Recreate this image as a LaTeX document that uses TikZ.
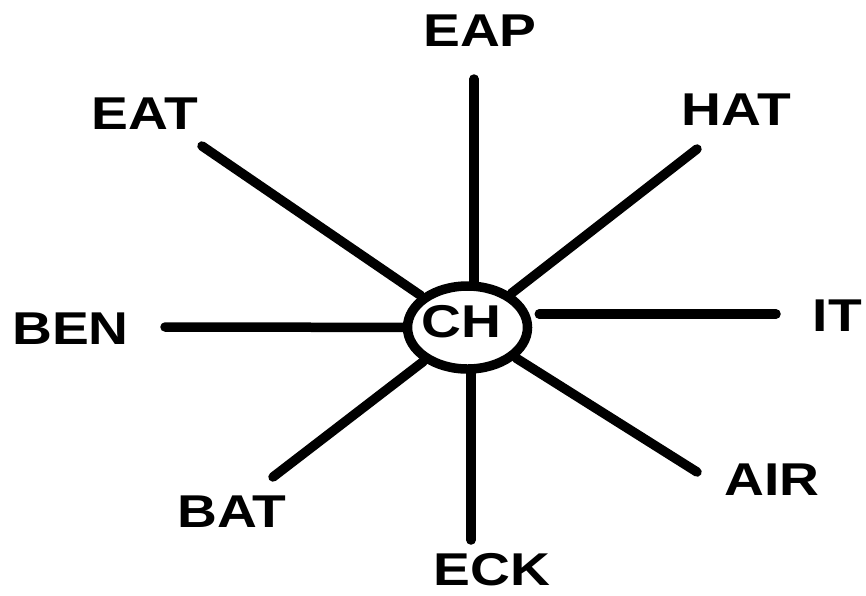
\documentclass[tikz,border=0pt]{standalone}
\usepackage{fontspec}
\setmainfont{Liberation Sans}[FakeStretch=1.2]
\usetikzlibrary{shapes.geometric}
\begin{document}
\begin{tikzpicture}[x=1pt,y=-1pt,
  lbl/.style={inner sep=0pt,font=\fontsize{46}{46}\selectfont\bfseries,text=black},
  ring/.style={draw=black,line width=9.5pt,ellipse,minimum width=120pt,minimum height=83pt,inner sep=0pt,fill=white},
  spoke/.style={draw=black,line width=9.5pt,line cap=round}]
\useasboundingbox (0,0) rectangle (866,595);
\node[ring] (ch) at (467.5,327.5) {};
\node[lbl] (chl) at (461.5,321.5) {CH};
\node[lbl] (eap) at (480,30.5) {EAP};
\node[lbl] (eat) at (145,113.5) {EAT};
\node[lbl] (hat) at (736.5,110) {HAT};
\node[lbl] (it) at (837.5,315.5) {IT};
\node[lbl] (ben) at (70.5,328.5) {BEN};
\node[lbl] (bat) at (232,511.5) {BAT};
\node[lbl] (eck) at (492,569.5) {ECK};
\node[lbl] (air) at (772,480) {AIR};
\coordinate (eapEnd) at (474,79);
\coordinate (eatEnd) at (202,146);
\coordinate (hatEnd) at (697,149);
\coordinate (itEnd) at (776,314);
\coordinate (benEnd) at (165,327);
\coordinate (batEnd) at (273,477);
\coordinate (eckEnd) at (471,540);
\coordinate (airEnd) at (697,472);
\draw[spoke] (eapEnd) -- (eapEnd |- ch.north);
\draw[spoke] (eatEnd) -- (ch);
\draw[spoke] (hatEnd) -- (ch);
\draw[spoke,shorten >=7pt] (itEnd) -- (itEnd -| ch.east);
\draw[spoke] (benEnd) -- (ch);
\draw[spoke] (batEnd) -- (ch);
\draw[spoke] (eckEnd) -- (eckEnd |- ch.south);
\draw[spoke] (airEnd) -- (ch);
\end{tikzpicture}
\end{document}
